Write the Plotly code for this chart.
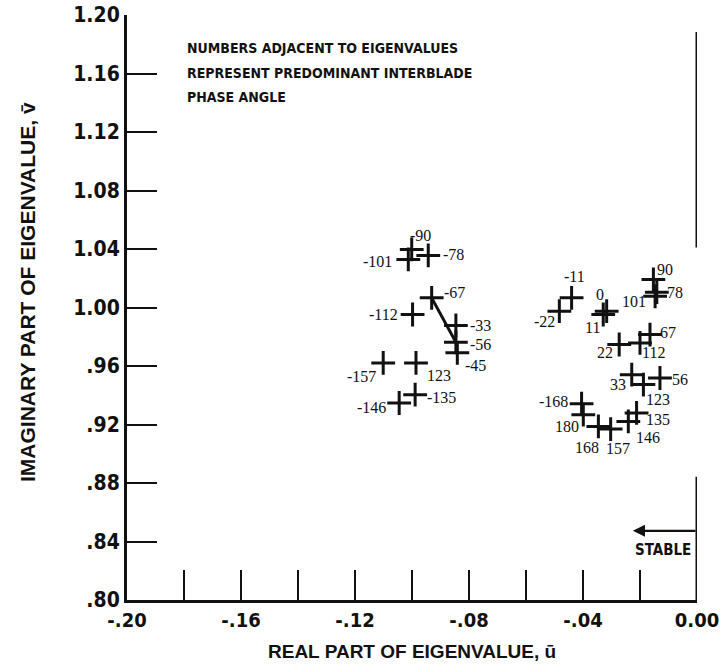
import plotly.graph_objects as go

# Eigenvalues (real part u, imaginary part v) labelled with the
# predominant interblade phase angle in degrees.
left_phase = ["-90", "-101", "-78", "-67", "-112", "-33", "-56", "-45",
              "-157", "123", "-135", "-146"]
left_u = [-0.1001, -0.1013, -0.0943, -0.0931, -0.0998, -0.0846, -0.0846,
          -0.0841, -0.1101, -0.0986, -0.0989, -0.1045]
left_v = [1.0397, 1.0329, 1.0356, 1.0066, 0.9952, 0.9877, 0.9762,
          0.9690, 0.9621, 0.9621, 0.9404, 0.9347]

right_phase = ["-11", "-22", "0", "11", "90", "101", "78", "67", "112", "22",
               "33", "123", "56", "-168", "180", "168", "157", "146", "135"]
right_u = [-0.0440, -0.0483, -0.0317, -0.0329, -0.0153, -0.0147, -0.0141,
           -0.0165, -0.0200, -0.0273, -0.0229, -0.0188, -0.0130, -0.0405,
           -0.0399, -0.0346, -0.0303, -0.0241, -0.0212]
right_v = [1.0066, 0.9975, 0.9975, 0.9952, 1.0192, 1.0077, 1.0105, 0.9815,
           0.9758, 0.9747, 0.9541, 0.9473, 0.9518, 0.9342, 0.9267, 0.9187,
           0.9169, 0.9221, 0.9279]

x_ticks = [-0.20, -0.18, -0.16, -0.14, -0.12, -0.10, -0.08, -0.06, -0.04, -0.02, 0.00]
x_tick_text = ["-.20", "", "-.16", "", "-.12", "", "-.08", "", "-.04", "", "0.00"]
y_ticks = [0.80, 0.84, 0.88, 0.92, 0.96, 1.00, 1.04, 1.08, 1.12, 1.16, 1.20]
y_tick_text = [".80", ".84", ".88", ".92", ".96", "1.00", "1.04", "1.08", "1.12", "1.16", "1.20"]

note_lines = ["NUMBERS ADJACENT TO EIGENVALUES",
              "REPRESENT PREDOMINANT INTERBLADE",
              "PHASE ANGLE"]

# pixel offsets of each phase label from its marker
left_label_shift = {
    "-90": (9, 14), "-101": (-31, -2), "-78": (25, 1), "-67": (23, 5),
    "-112": (-29, 0), "-33": (25, 0), "-56": (25, -2), "-45": (18, -13),
    "-157": (-22, -14), "123": (23, -13), "-135": (26, -3), "-146": (-28, -4),
}
right_label_shift = {
    "-11": (3, 21), "-22": (-15, -10), "0": (-7, 17), "11": (-11, -13),
    "90": (12, 10), "101": (-21, -5), "78": (18, 0), "67": (18, 2),
    "112": (13, -10), "22": (-14, -8), "33": (-14, -10), "123": (15, -15),
    "56": (20, -2), "-168": (-28, 2), "180": (-16, -12), "168": (-11, -21),
    "157": (7, -19), "146": (20, -16), "135": (21, -7),
}

FONT = "Liberation Sans, Arial, sans-serif"
COND = "DejaVu Sans Condensed, Liberation Sans Narrow, Arial Narrow, sans-serif"
LABEL_FONT = "Liberation Serif, Times New Roman, serif"
INK = "#111111"

fig = go.Figure()

cross = dict(symbol="cross-thin", size=17, line=dict(width=3, color=INK), color=INK)

# segment joining the -67 and -56 eigenvalues
i67, i56 = left_phase.index("-67"), left_phase.index("-56")
fig.add_trace(go.Scatter(x=[left_u[i67], left_u[i56]], y=[left_v[i67], left_v[i56]],
                         mode="lines", line=dict(color=INK, width=3),
                         hoverinfo="skip", showlegend=False))

fig.add_trace(go.Scatter(x=left_u, y=left_v, mode="markers", marker=cross,
                         text=left_phase, showlegend=False))
fig.add_trace(go.Scatter(x=right_u, y=right_v, mode="markers", marker=cross,
                         text=right_phase, showlegend=False))

annotations = []
for lab, u, v in zip(left_phase, left_u, left_v):
    dx, dy = left_label_shift[lab]
    annotations.append(dict(x=u, y=v, text=lab, showarrow=False, xshift=dx, yshift=dy,
                            font=dict(family=LABEL_FONT, size=16, color=INK)))
for lab, u, v in zip(right_phase, right_u, right_v):
    dx, dy = right_label_shift[lab]
    annotations.append(dict(x=u, y=v, text=lab, showarrow=False, xshift=dx, yshift=dy,
                            font=dict(family=LABEL_FONT, size=16, color=INK)))

# explanatory note, one annotation per line
for k, line in enumerate(note_lines):
    annotations.append(dict(
        xref="paper", yref="paper", x=(185 - 127) / 570, y=(600 - (48 + 24.5 * k)) / 585,
        xanchor="left", yanchor="middle", align="left", showarrow=False, text=line,
        font=dict(family=COND, size=14, color=INK, weight="bold")))

# stability arrow and label
annotations.append(dict(x=-0.0225, y=0.8473, ax=0.0, ay=0.8473, axref="x", ayref="y",
                        xref="x", yref="y", showarrow=True, arrowhead=2, arrowsize=1.1,
                        arrowwidth=2.2, arrowcolor=INK, text=""))
annotations.append(dict(x=0.0, y=0.834, xref="x", yref="y", xanchor="right", xshift=-4,
                        showarrow=False, text="STABLE",
                        font=dict(family=COND, size=15, color=INK, weight="bold")))

# axis titles
annotations.append(dict(xref="paper", yref="paper", x=0.5, y=(600 - 651) / 585,
                        xanchor="center", yanchor="middle", showarrow=False,
                        text="REAL PART OF EIGENVALUE, \u016b",
                        font=dict(family=FONT, size=19, color=INK, weight="bold")))
annotations.append(dict(xref="paper", yref="paper", x=(27 - 127) / 570, y=(600 - 292) / 585,
                        xanchor="center", yanchor="middle", showarrow=False,
                        textangle=-90, text="IMAGINARY PART OF EIGENVALUE, v\u0304",
                        font=dict(family=FONT, size=21, color=INK, weight="bold")))

# partial right-hand frame
shapes = [
    dict(type="line", xref="x", yref="y", x0=0.0, x1=0.0, y0=1.0411, y1=1.1884,
         line=dict(color=INK, width=3)),
    dict(type="line", xref="x", yref="y", x0=0.0, x1=0.0, y0=0.80, y1=0.8842,
         line=dict(color=INK, width=3)),
]

fig.update_layout(
    width=720, height=668,
    margin=dict(l=127, r=23, t=15, b=68, autoexpand=False),
    paper_bgcolor="white", plot_bgcolor="white",
    annotations=annotations, shapes=shapes,
    xaxis=dict(range=[-0.20, 0.0], tickmode="array", tickvals=x_ticks, ticktext=x_tick_text,
               ticks="inside", ticklen=30, tickwidth=2.4, tickcolor=INK, automargin=False,
               showline=True, linewidth=3, linecolor=INK, showgrid=False, zeroline=False,
               tickfont=dict(family=COND, size=20, color=INK, weight="bold")),
    yaxis=dict(range=[0.80, 1.20], tickmode="array", tickvals=y_ticks, ticktext=y_tick_text,
               ticks="inside", ticklen=30, tickwidth=2.4, tickcolor=INK, automargin=False,
               showline=True, linewidth=3, linecolor=INK, showgrid=False, zeroline=False,
               tickfont=dict(family=COND, size=21, color=INK, weight="bold")),
)

fig.write_html("out.html")
